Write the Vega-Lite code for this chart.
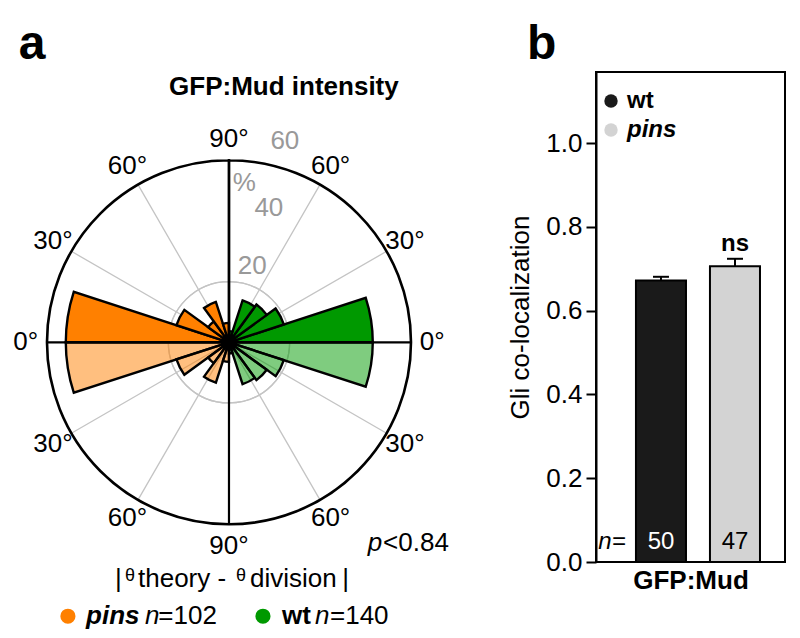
{
  "$schema": "https://vega.github.io/schema/vega-lite/v6.json",
  "padding": {"top": 20, "left": 0, "right": 0, "bottom": 0},
  "background": "white",
  "config": {"font": "Liberation Sans", "view": {"stroke": null}},
  "datasets": {
    "rose": [
      {"g": "pins", "lo": 0, "hi": 18, "pct": 53.8},
      {"g": "pins", "lo": 18, "hi": 36, "pct": 18.2},
      {"g": "pins", "lo": 36, "hi": 54, "pct": 8.5},
      {"g": "pins", "lo": 54, "hi": 72, "pct": 14.0},
      {"g": "pins", "lo": 72, "hi": 90, "pct": 6.4},
      {"g": "wt", "lo": 0, "hi": 18, "pct": 47.4},
      {"g": "wt", "lo": 18, "hi": 36, "pct": 19.0},
      {"g": "wt", "lo": 36, "hi": 54, "pct": 15.4},
      {"g": "wt", "lo": 54, "hi": 72, "pct": 14.5},
      {"g": "wt", "lo": 72, "hi": 90, "pct": 3.7}
    ],
    "degLabels": [
      {"a": 0, "t": "90°"}, {"a": 30, "t": "60°"}, {"a": 60, "t": "30°"}, {"a": 90, "t": "0°"},
      {"a": 120, "t": "30°"}, {"a": 150, "t": "60°"}, {"a": 180, "t": "90°"}, {"a": 210, "t": "60°"},
      {"a": 240, "t": "30°"}, {"a": 270, "t": "0°"}, {"a": 300, "t": "30°"}, {"a": 330, "t": "60°"}
    ],
    "bars": [
      {"genotype": "wt", "mean": 0.672, "hi": 0.681, "n": "50", "sig": ""},
      {"genotype": "pins", "mean": 0.706, "hi": 0.724, "n": "47", "sig": "ns"}
    ]
  },
  "hconcat": [
    {
      "width": 455,
      "height": 567,
      "data": {"values": [{}]},
      "resolve": {"scale": {"theta": "independent"}},
      "layer": [
        {
          "data": {"values": [{"r": 20}, {"r": 40}]},
          "mark": {"type": "arc", "filled": false, "stroke": "#c4c4c4", "strokeWidth": 1.3, "theta": 0, "theta2": 6.283185},
          "encoding": {
            "x": {"datum": 0, "type": "quantitative", "scale": {"domain": [-75.49, 74.51], "nice": false, "zero": false}, "axis": null},
            "y": {"datum": 0, "type": "quantitative", "scale": {"domain": [-97.81, 89.11], "nice": false, "zero": false}, "axis": null},
            "radius": {"field": "r", "type": "quantitative", "scale": {"type": "linear", "domain": [0, 60], "range": [0, 182], "zero": true, "nice": false}}
          }
        },
        {
          "data": {"values": [{"a": 30}, {"a": 60}, {"a": 120}, {"a": 150}, {"a": 210}, {"a": 240}, {"a": 300}, {"a": 330}]},
          "mark": {"type": "arc", "filled": false, "stroke": "#c4c4c4", "strokeWidth": 1.3},
          "encoding": {
            "x": {"datum": 0, "type": "quantitative", "axis": null},
            "y": {"datum": 0, "type": "quantitative", "axis": null},
            "theta": {"field": "a", "type": "quantitative", "stack": null, "scale": {"domain": [0, 360], "range": [0, 6.283185]}},
            "theta2": {"field": "a"},
            "radius": {"datum": 60, "type": "quantitative"}
          }
        },
        {
          "data": {"name": "rose"},
          "transform": [{"filter": "datum.g == 'wt'"}],
          "mark": {"type": "arc", "fill": "#009900", "stroke": "black", "strokeWidth": 2.4},
          "encoding": {
            "x": {"datum": 0, "type": "quantitative", "axis": null},
            "y": {"datum": 0, "type": "quantitative", "axis": null},
            "theta": {"field": "lo", "type": "quantitative", "stack": null, "scale": {"domain": [0, 90], "range": [1.570796, 0]}},
            "theta2": {"field": "hi"},
            "radius": {"field": "pct", "type": "quantitative"}
          }
        },
        {
          "data": {"name": "rose"},
          "transform": [{"filter": "datum.g == 'wt'"}],
          "mark": {"type": "arc", "fill": "#009900", "fillOpacity": 0.5, "stroke": "black", "strokeWidth": 2.4},
          "encoding": {
            "x": {"datum": 0, "type": "quantitative", "axis": null},
            "y": {"datum": 0, "type": "quantitative", "axis": null},
            "theta": {"field": "lo", "type": "quantitative", "stack": null, "scale": {"domain": [0, 90], "range": [1.570796, 3.141593]}},
            "theta2": {"field": "hi"},
            "radius": {"field": "pct", "type": "quantitative"}
          }
        },
        {
          "data": {"name": "rose"},
          "transform": [{"filter": "datum.g == 'pins'"}],
          "mark": {"type": "arc", "fill": "#FF8000", "stroke": "black", "strokeWidth": 2.4},
          "encoding": {
            "x": {"datum": 0, "type": "quantitative", "axis": null},
            "y": {"datum": 0, "type": "quantitative", "axis": null},
            "theta": {"field": "lo", "type": "quantitative", "stack": null, "scale": {"domain": [0, 90], "range": [4.712389, 6.283185]}},
            "theta2": {"field": "hi"},
            "radius": {"field": "pct", "type": "quantitative"}
          }
        },
        {
          "data": {"name": "rose"},
          "transform": [{"filter": "datum.g == 'pins'"}],
          "mark": {"type": "arc", "fill": "#FF8000", "fillOpacity": 0.5, "stroke": "black", "strokeWidth": 2.4},
          "encoding": {
            "x": {"datum": 0, "type": "quantitative", "axis": null},
            "y": {"datum": 0, "type": "quantitative", "axis": null},
            "theta": {"field": "lo", "type": "quantitative", "stack": null, "scale": {"domain": [0, 90], "range": [4.712389, 3.141593]}},
            "theta2": {"field": "hi"},
            "radius": {"field": "pct", "type": "quantitative"}
          }
        },
        {
          "data": {"values": [{"a": 0}, {"a": 90}, {"a": 180}, {"a": 270}]},
          "mark": {"type": "arc", "filled": false, "stroke": "black", "strokeWidth": 2.2},
          "encoding": {
            "x": {"datum": 0, "type": "quantitative", "axis": null},
            "y": {"datum": 0, "type": "quantitative", "axis": null},
            "theta": {"field": "a", "type": "quantitative", "stack": null, "scale": {"domain": [0, 360], "range": [0, 6.283185]}},
            "theta2": {"field": "a"},
            "radius": {"datum": 60, "type": "quantitative"}
          }
        },
        {
          "data": {"values": [{"r": 60}]},
          "mark": {"type": "arc", "filled": false, "stroke": "black", "strokeWidth": 2.6, "theta": 0, "theta2": 6.283185},
          "encoding": {
            "x": {"datum": 0, "type": "quantitative", "axis": null},
            "y": {"datum": 0, "type": "quantitative", "axis": null},
            "radius": {"field": "r", "type": "quantitative"}
          }
        },
        {
          "data": {"values": [{"r": 0}]},
          "mark": {"type": "arc", "fill": "black", "theta": 0, "theta2": 6.283185},
          "encoding": {
            "x": {"datum": 0, "type": "quantitative", "axis": null},
            "y": {"datum": 0, "type": "quantitative", "axis": null},
            "radius": {"datum": 2.6, "type": "quantitative"}
          }
        },
        {
          "data": {"name": "degLabels"},
          "mark": {"type": "text", "fontSize": 26, "color": "black", "align": "center", "baseline": "middle"},
          "encoding": {
            "x": {"datum": 0, "type": "quantitative", "axis": null},
            "y": {"datum": 0, "type": "quantitative", "axis": null},
            "theta": {"field": "a", "type": "quantitative", "stack": null, "scale": {"domain": [0, 360], "range": [0, 6.283185]}},
            "radius": {"datum": 67, "type": "quantitative"},
            "text": {"field": "t"}
          }
        },
        {
          "data": {"values": [{"v": 20, "a": 17}, {"v": 40, "a": 16.5}]},
          "mark": {"type": "text", "fontSize": 26, "color": "#999999", "align": "center", "baseline": "middle", "radiusOffset": 19},
          "encoding": {
            "x": {"datum": 0, "type": "quantitative", "axis": null},
            "y": {"datum": 0, "type": "quantitative", "axis": null},
            "theta": {"field": "a", "type": "quantitative", "stack": null, "scale": {"domain": [0, 360], "range": [0, 6.283185]}},
            "radius": {"field": "v", "type": "quantitative"},
            "text": {"field": "v"}
          }
        },
        {
          "data": {"values": [{"v": 60, "a": 15.5}]},
          "mark": {"type": "text", "fontSize": 26, "color": "#999999", "align": "center", "baseline": "middle", "radiusOffset": 27},
          "encoding": {
            "x": {"datum": 0, "type": "quantitative", "axis": null},
            "y": {"datum": 0, "type": "quantitative", "axis": null},
            "theta": {"field": "a", "type": "quantitative", "stack": null, "scale": {"domain": [0, 360], "range": [0, 6.283185]}},
            "radius": {"field": "v", "type": "quantitative"},
            "text": {"field": "v"}
          }
        },
        {
          "mark": {"type": "text", "fontSize": 26, "color": "#999999", "align": "center", "baseline": "middle"},
          "encoding": {
            "x": {"datum": 0, "type": "quantitative", "axis": null},
            "y": {"datum": 0, "type": "quantitative", "axis": null},
            "theta": {"datum": 5.5, "type": "quantitative", "stack": null, "scale": {"domain": [0, 360], "range": [0, 6.283185]}},
            "radius": {"datum": 52.7, "type": "quantitative"},
            "text": {"value": "%"}
          }
        },
        {
          "mark": {"type": "text", "fontSize": 48, "fontWeight": "bold", "align": "center", "baseline": "alphabetic"},
          "encoding": {
            "x": {"datum": -64.9, "type": "quantitative", "axis": null},
            "y": {"datum": 93.3, "type": "quantitative", "axis": null},
            "text": {"value": "a"}
          }
        },
        {
          "mark": {"type": "text", "fontSize": 26, "fontWeight": "bold", "align": "center", "baseline": "alphabetic"},
          "encoding": {
            "x": {"datum": 18.1, "type": "quantitative", "axis": null},
            "y": {"datum": 81.66, "type": "quantitative", "axis": null},
            "text": {"value": "GFP:Mud intensity"}
          }
        },
        {
          "mark": {"type": "text", "fontSize": 26, "align": "right", "baseline": "alphabetic"},
          "encoding": {
            "x": {"datum": 72.5, "type": "quantitative", "axis": null},
            "y": {"datum": -68.9, "type": "quantitative", "axis": null},
            "text": {"value": "<0.84"}
          }
        },
        {
          "mark": {"type": "text", "fontSize": 26, "fontStyle": "italic", "align": "right", "baseline": "alphabetic"},
          "encoding": {
            "x": {"datum": 50.5, "type": "quantitative", "axis": null},
            "y": {"datum": -68.9, "type": "quantitative", "axis": null},
            "text": {"value": "p"}
          }
        },
        {
          "mark": {"type": "text", "fontSize": 26, "align": "left", "baseline": "alphabetic"},
          "encoding": {
            "x": {"datum": -37.6, "type": "quantitative", "axis": null},
            "y": {"datum": -80.8, "type": "quantitative", "axis": null},
            "text": {"value": "|"}
          }
        },
        {
          "mark": {"type": "text", "fontSize": 18, "align": "left", "baseline": "alphabetic"},
          "encoding": {
            "x": {"datum": -34.3, "type": "quantitative", "axis": null},
            "y": {"datum": -78.8, "type": "quantitative", "axis": null},
            "text": {"value": "θ"}
          }
        },
        {
          "mark": {"type": "text", "fontSize": 26, "align": "left", "baseline": "alphabetic"},
          "encoding": {
            "x": {"datum": -30.0, "type": "quantitative", "axis": null},
            "y": {"datum": -80.8, "type": "quantitative", "axis": null},
            "text": {"value": "theory -"}
          }
        },
        {
          "mark": {"type": "text", "fontSize": 18, "align": "left", "baseline": "alphabetic"},
          "encoding": {
            "x": {"datum": 2.3, "type": "quantitative", "axis": null},
            "y": {"datum": -78.8, "type": "quantitative", "axis": null},
            "text": {"value": "θ"}
          }
        },
        {
          "mark": {"type": "text", "fontSize": 26, "align": "left", "baseline": "alphabetic"},
          "encoding": {
            "x": {"datum": 6.9, "type": "quantitative", "axis": null},
            "y": {"datum": -80.8, "type": "quantitative", "axis": null},
            "text": {"value": "division"}
          }
        },
        {
          "mark": {"type": "text", "fontSize": 26, "align": "left", "baseline": "alphabetic"},
          "encoding": {
            "x": {"datum": 37.3, "type": "quantitative", "axis": null},
            "y": {"datum": -80.8, "type": "quantitative", "axis": null},
            "text": {"value": "|"}
          }
        },
        {
          "data": {"values": [{"x": -53.1, "c": "pins"}, {"x": 11.2, "c": "wt"}]},
          "mark": {"type": "point", "filled": true, "size": 230, "opacity": 1},
          "encoding": {
            "x": {"field": "x", "type": "quantitative", "axis": null},
            "y": {"datum": -90.3, "type": "quantitative", "axis": null},
            "color": {"field": "c", "type": "nominal", "scale": {"domain": ["pins", "wt"], "range": ["#FF8000", "#009900"]}, "legend": null}
          }
        },
        {
          "mark": {"type": "text", "fontSize": 26, "fontWeight": "bold", "fontStyle": "italic", "align": "left", "baseline": "alphabetic"},
          "encoding": {
            "x": {"datum": -47.1, "type": "quantitative", "axis": null},
            "y": {"datum": -92.9, "type": "quantitative", "axis": null},
            "text": {"value": "pins"}
          }
        },
        {
          "mark": {"type": "text", "fontSize": 26, "fontWeight": "bold", "align": "left", "baseline": "alphabetic"},
          "encoding": {
            "x": {"datum": 17.5, "type": "quantitative", "axis": null},
            "y": {"datum": -92.9, "type": "quantitative", "axis": null},
            "text": {"value": "wt"}
          }
        },
        {
          "mark": {"type": "text", "fontSize": 26, "fontStyle": "italic", "align": "left", "baseline": "alphabetic"},
          "encoding": {
            "x": {"datum": -27.7, "type": "quantitative", "axis": null},
            "y": {"datum": -92.9, "type": "quantitative", "axis": null},
            "text": {"value": "n"}
          }
        },
        {
          "mark": {"type": "text", "fontSize": 26, "align": "left", "baseline": "alphabetic"},
          "encoding": {
            "x": {"datum": -23.3, "type": "quantitative", "axis": null},
            "y": {"datum": -92.9, "type": "quantitative", "axis": null},
            "text": {"value": "=102"}
          }
        },
        {
          "mark": {"type": "text", "fontSize": 26, "fontStyle": "italic", "align": "left", "baseline": "alphabetic"},
          "encoding": {
            "x": {"datum": 28.35, "type": "quantitative", "axis": null},
            "y": {"datum": -92.9, "type": "quantitative", "axis": null},
            "text": {"value": "n"}
          }
        },
        {
          "mark": {"type": "text", "fontSize": 26, "align": "left", "baseline": "alphabetic"},
          "encoding": {
            "x": {"datum": 33.3, "type": "quantitative", "axis": null},
            "y": {"datum": -92.9, "type": "quantitative", "axis": null},
            "text": {"value": "=140"}
          }
        }
      ]
    },
    {
      "width": 189,
      "height": 490,
      "view": {"stroke": "black", "strokeWidth": 2},
      "data": {"name": "bars"},
      "encoding": {
        "x": {
          "field": "genotype", "type": "nominal", "sort": ["wt", "pins"],
          "scale": {"paddingInner": 0.324, "paddingOuter": 0.439, "align": 0.615},
          "axis": {"title": "GFP:Mud", "labels": false, "ticks": false, "domain": false, "titleFontSize": 26, "titleFontWeight": "bold", "titleColor": "black", "titlePadding": 5}
        }
      },
      "layer": [
        {
          "mark": {"type": "rule", "strokeWidth": 2, "color": "black"},
          "encoding": {
            "y": {"field": "mean", "type": "quantitative", "scale": {"domain": [0, 1.17], "nice": false},
              "axis": {"values": [0, 0.2, 0.4, 0.6, 0.8, 1.0], "format": ".1f", "title": "Gli co-localization", "titleFontSize": 26, "titleFontWeight": "normal", "titleColor": "black", "labelFontSize": 26, "labelColor": "black", "tickSize": 10, "tickWidth": 2, "tickColor": "black", "domainWidth": 2, "domainColor": "black", "grid": false, "labelPadding": 4, "titlePadding": 12}},
            "y2": {"field": "hi"}
          }
        },
        {
          "mark": {"type": "tick", "thickness": 2, "size": 16, "color": "black", "opacity": 1},
          "encoding": {"y": {"field": "hi", "type": "quantitative"}}
        },
        {
          "mark": {"type": "bar", "stroke": "black", "strokeWidth": 2},
          "encoding": {
            "y": {"field": "mean", "type": "quantitative"},
            "fill": {"field": "genotype", "type": "nominal", "scale": {"domain": ["wt", "pins"], "range": ["#1a1a1a", "#d3d3d3"]},
              "legend": {"title": null, "orient": "none", "legendX": 599, "legendY": 17, "symbolType": "circle", "symbolSize": 180, "symbolStrokeWidth": 0, "symbolOpacity": 1, "labelFontSize": 24, "labelFontWeight": "bold", "labelColor": "black", "labelFontStyle": {"expr": "datum.value == 'pins' ? 'italic' : 'normal'"}, "rowPadding": 5, "labelOffset": 4}}
          }
        },
        {
          "mark": {"type": "text", "fontSize": 24, "baseline": "middle", "dy": -20},
          "encoding": {
            "y": {"datum": 0, "type": "quantitative"},
            "text": {"field": "n"},
            "color": {"condition": {"test": "datum.genotype == 'wt'", "value": "white"}, "value": "black"}
          }
        },
        {
          "mark": {"type": "text", "fontSize": 24, "fontWeight": "bold", "baseline": "alphabetic", "dy": -8, "color": "black"},
          "encoding": {
            "y": {"field": "hi", "type": "quantitative"},
            "text": {"field": "sig"}
          }
        },
        {
          "data": {"values": [{"genotype": "wt"}]},
          "mark": {"type": "text", "fontSize": 24, "fontStyle": "italic", "baseline": "middle", "dy": -20, "dx": -49, "color": "black"},
          "encoding": {
            "y": {"datum": 0, "type": "quantitative"},
            "text": {"value": "n="}
          }
        },
        {
          "data": {"values": [{"genotype": "wt"}]},
          "mark": {"type": "text", "fontSize": 48, "fontWeight": "bold", "align": "left", "baseline": "alphabetic", "dx": -134, "color": "black"},
          "encoding": {
            "y": {"datum": 1.2, "type": "quantitative"},
            "text": {"value": "b"}
          }
        }
      ]
    }
  ],
  "spacing": 51
}
